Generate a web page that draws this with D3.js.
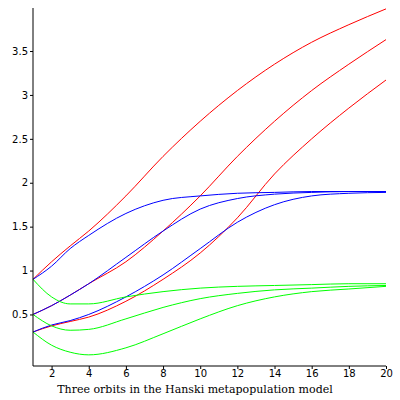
<!DOCTYPE html>
<html><head><meta charset="utf-8">
<script src="https://cdn.jsdelivr.net/npm/d3@7"></script>
<style>body{margin:0;background:#fff}</style></head>
<body><svg id="c" width="400" height="400"></svg>
<script>
const xs = [1,2,3,4,6,8,10,12,14,16,18,20];
const redA   = [0.9,1.1,1.28,1.45,1.85,2.3,2.7,3.05,3.35,3.6,3.8,3.98];
const blueA  = [0.9,1.05,1.25,1.4,1.65,1.8,1.85,1.88,1.89,1.9,1.9,1.9];
const greenA = [0.9,0.7,0.62,0.62,0.7,0.76,0.8,0.82,0.83,0.84,0.85,0.85];
const redB   = [0.5,0.6,0.72,0.85,1.1,1.45,1.85,2.3,2.7,3.05,3.35,3.63];
const blueB  = [0.5,0.6,0.72,0.85,1.15,1.45,1.7,1.82,1.87,1.89,1.9,1.9];
const greenB = [0.5,0.37,0.32,0.33,0.45,0.58,0.68,0.74,0.78,0.8,0.82,0.83];
const redC   = [0.3,0.37,0.42,0.47,0.65,0.9,1.2,1.6,2.1,2.5,2.85,3.17];
const blueC  = [0.3,0.38,0.43,0.5,0.7,0.95,1.25,1.55,1.75,1.85,1.88,1.89];
const greenC = [0.3,0.15,0.07,0.04,0.12,0.28,0.45,0.6,0.7,0.76,0.79,0.82];
const xTicks = [2,4,6,8,10,12,14,16,18,20];
const yTicks = [0.5,1,1.5,2,2.5,3,3.5];
const caption = "Three orbits in the Hanski metapopulation model";

const svg = d3.select("#c");
const x = d3.scaleLinear().domain([1,20]).range([33,386]);
const y = d3.scaleLinear().domain([-0.087,3.99]).range([366,8]);
const line = d3.line().x((d,i)=>x(xs[i])).y(d=>y(d)).curve(d3.curveMonotoneX);
const series = [[redA,"#ff0000"],[redB,"#ff0000"],[redC,"#ff0000"],
  [blueA,"#0000ff"],[blueB,"#0000ff"],[blueC,"#0000ff"],
  [greenA,"#00ff00"],[greenB,"#00ff00"],[greenC,"#00ff00"]];
svg.selectAll("path.s").data(series).join("path").attr("class","s")
  .attr("d",d=>line(d[0])).attr("fill","none").attr("stroke",d=>d[1]).attr("stroke-width",1);
const font = "DejaVu Sans, sans-serif";
const xa = svg.append("g").attr("transform",`translate(0,${y(-0.087)})`)
  .call(d3.axisBottom(x).tickValues(xTicks).tickSize(3).tickPadding(1).tickFormat(d3.format("d")));
const ya = svg.append("g").attr("transform",`translate(${x(1)},0)`)
  .call(d3.axisLeft(y).tickValues(yTicks).tickSize(3).tickPadding(2).tickFormat(d=>String(d)));
[xa,ya].forEach(a=>{a.select(".domain").attr("stroke","#000");
  a.selectAll("text").attr("font-family",font).attr("font-size",10).attr("fill","#000");});
ya.select(".domain").attr("d",`M0,${y(-0.087)}V${y(3.99)}`);
xa.select(".domain").attr("d",`M${x(1)},0H${x(20)}`);
svg.append("text").attr("x",195).attr("y",393).attr("text-anchor","middle")
  .attr("font-family","DejaVu Serif, serif").attr("font-size",11).text(caption);
</script></body></html>
